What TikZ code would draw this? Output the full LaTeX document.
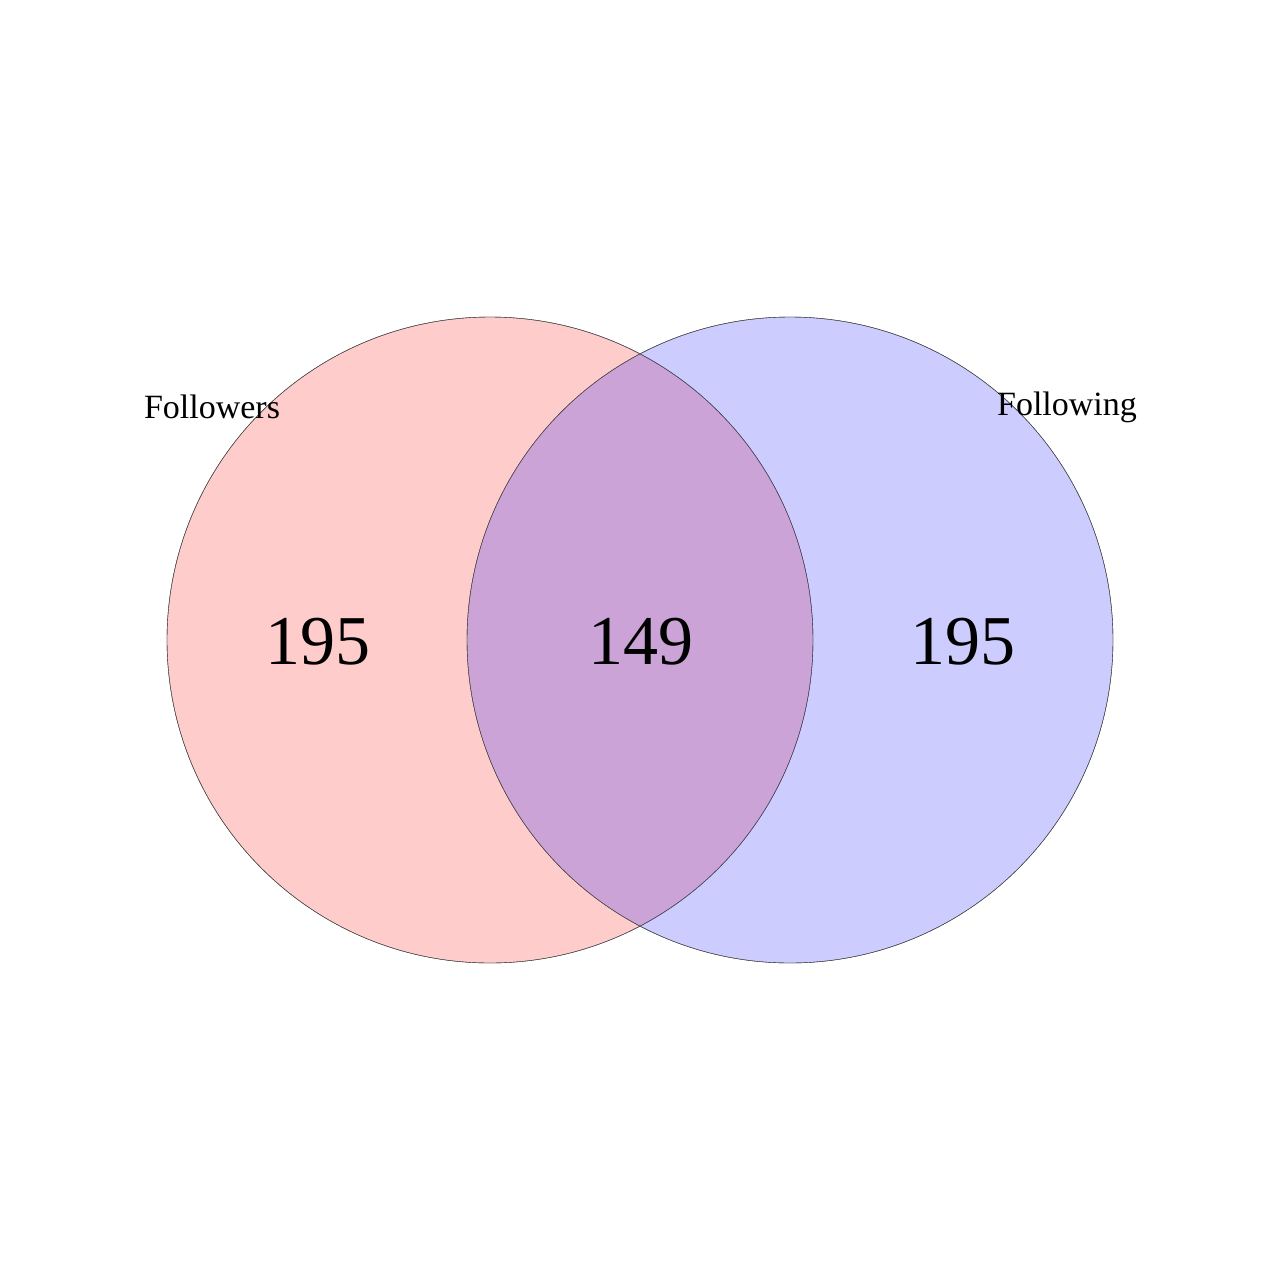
\documentclass[tikz,border=0pt]{standalone}
\usepackage{fontspec}
\setmainfont{Liberation Serif}
\begin{document}
\begin{tikzpicture}[x=1pt,y=-1pt,
  set/.style={draw=black!80,line width=0.4pt,fill opacity=0.2},
  num/.style={font=\fontsize{70}{70}\selectfont,text=black},
  lab/.style={font=\fontsize{34}{34}\selectfont,text=black}]
\useasboundingbox (0,0) rectangle (1280,1280);
\fill[white] (0,0) rectangle (1280,1280);
\path[set,fill=red] (490,640) circle (323);
\path[set,fill=blue] (790,640) circle (323);
\draw[black!70,line width=0.4pt] (490,640) circle (323);
\draw[black!70,line width=0.4pt] (790,640) circle (323);
\node[num] (a) at (318,642) {195};
\node[num] (b) at (641,642) {149};
\node[num] (c) at (963,642) {195};
\node[lab] (l1) at (212,407) {Followers};
\node[lab] (l2) at (1067,407) {Following};
\end{tikzpicture}
\end{document}
